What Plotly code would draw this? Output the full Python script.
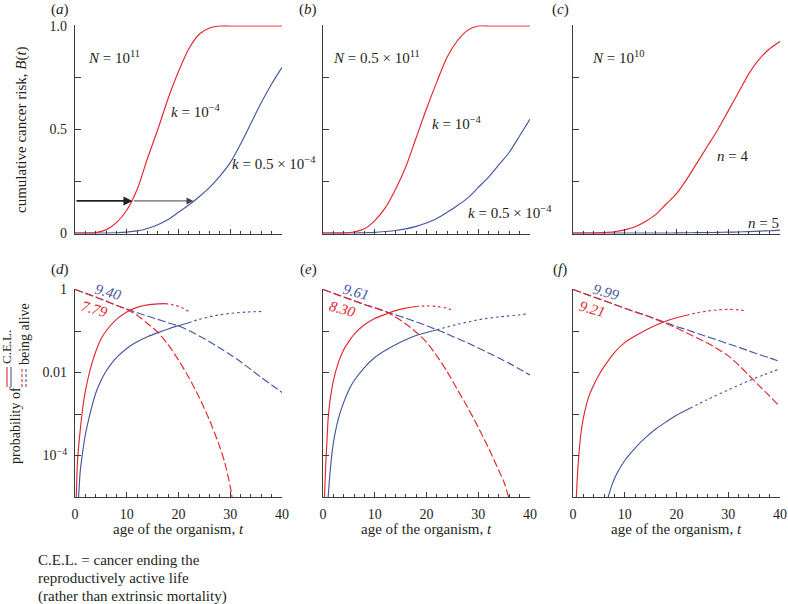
import plotly.graph_objects as go

# ---------------- data ----------------
T_TOP = [0, 2, 4, 6, 8, 10, 12, 14, 16, 18, 20, 22, 24, 26, 28, 30, 32, 34, 36, 38, 40]

# (a) N = 1e11
a_red = [0, 0, 0.002, 0.015, 0.05, 0.11, 0.21, 0.36, 0.50, 0.65, 0.78, 0.89, 0.96, 0.99, 1.0, 1.0, 1.0, 1.0, 1.0, 1.0, 1.0]
a_blue = [0, 0, 0, 0, 0.001, 0.004, 0.01, 0.022, 0.04, 0.065, 0.10, 0.135, 0.175, 0.22, 0.275, 0.34, 0.43, 0.53, 0.63, 0.72, 0.80]
# (b) N = 0.5e11
b_red = [0, 0, 0, 0.005, 0.02, 0.06, 0.12, 0.21, 0.32, 0.46, 0.60, 0.73, 0.85, 0.93, 0.98, 1.0, 1.0, 1.0, 1.0, 1.0, 1.0]
b_blue = [0, 0, 0, 0, 0.001, 0.003, 0.007, 0.012, 0.02, 0.032, 0.048, 0.07, 0.10, 0.133, 0.17, 0.22, 0.27, 0.33, 0.39, 0.47, 0.55]
# (c) N = 1e10
c_red = [0, 0, 0, 0.002, 0.006, 0.015, 0.03, 0.055, 0.09, 0.14, 0.19, 0.26, 0.34, 0.42, 0.50, 0.59, 0.68, 0.77, 0.84, 0.89, 0.925]
c_blue = [0, 0, 0, 0, 0, 0, 0, 0, 0, 0, 0.0005, 0.001, 0.0015, 0.002, 0.003, 0.004, 0.005, 0.007, 0.009, 0.011, 0.014]

# bottom row: log10 of probability
T_ALIVE = [0, 2, 4, 6, 8, 10, 12, 14, 16, 18, 20, 22, 24, 26, 28, 30, 32, 34, 36, 38, 40]

# (d)
d_blue_alive = [0, -0.09, -0.18, -0.28, -0.38, -0.47, -0.56, -0.64, -0.72, -0.80, -0.88, -0.99, -1.12, -1.26, -1.41, -1.57, -1.74, -1.93, -2.12, -2.30, -2.48]
d_red_alive_t = [0, 2, 4, 6, 8, 10, 12, 14, 16, 18, 20, 22, 24, 26, 28, 29, 30, 30.4]
d_red_alive = [0, -0.09, -0.18, -0.28, -0.38, -0.48, -0.62, -0.82, -1.03, -1.33, -1.70, -2.12, -2.60, -3.15, -3.80, -4.2, -4.75, -5.05]
d_red_cel_t = [0.25, 0.5, 1, 1.5, 2, 3, 4, 5, 6, 8, 10, 12, 14, 16, 17.5]
d_red_cel = [-5, -4.1, -3.4, -2.85, -2.45, -1.9, -1.5, -1.2, -1.0, -0.72, -0.54, -0.43, -0.37, -0.345, -0.34]
d_red_cel_dot_t = [17.5, 19, 20.5, 22]
d_red_cel_dot = [-0.34, -0.37, -0.43, -0.53]
d_blue_cel_t = [0.7, 1, 1.5, 2, 3, 4, 5, 6, 7, 8, 10, 12, 14, 16, 18, 20, 22]
d_blue_cel = [-5, -4.4, -3.9, -3.5, -2.95, -2.5, -2.2, -1.97, -1.79, -1.64, -1.42, -1.26, -1.14, -1.04, -0.95, -0.87, -0.80]
d_blue_cel_dot_t = [22, 24, 27, 30, 33, 36]
d_blue_cel_dot = [-0.80, -0.72, -0.63, -0.575, -0.545, -0.53]

# (e)
e_blue_alive = [0, -0.09, -0.18, -0.27, -0.36, -0.44, -0.53, -0.61, -0.69, -0.78, -0.87, -0.97, -1.07, -1.18, -1.29, -1.41, -1.53, -1.65, -1.78, -1.92, -2.06]
e_red_alive_t = [0, 2, 4, 6, 8, 10, 12, 14, 16, 18, 20, 22, 24, 26, 28, 30, 32, 34, 35, 35.9]
e_red_alive = [0, -0.09, -0.18, -0.27, -0.36, -0.44, -0.53, -0.66, -0.83, -1.03, -1.27, -1.60, -1.98, -2.42, -2.85, -3.32, -3.82, -4.37, -4.65, -5.02]
e_red_cel_t = [0.3, 0.5, 0.75, 1, 1.5, 2, 3, 4, 5, 6, 8, 10, 12, 14, 16, 18]
e_red_cel = [-5, -4.3, -3.7, -3.1, -2.55, -2.2, -1.75, -1.45, -1.25, -1.08, -0.85, -0.70, -0.60, -0.51, -0.45, -0.41]
e_red_cel_dot_t = [18, 20, 22, 24, 25.2]
e_red_cel_dot = [-0.41, -0.395, -0.41, -0.45, -0.51]
e_blue_cel_t = [1, 1.3, 1.6, 2, 3, 4, 5, 6, 8, 10, 12, 14, 16, 18, 20, 22]
e_blue_cel = [-5, -4.5, -4.1, -3.7, -3.1, -2.72, -2.42, -2.2, -1.88, -1.64, -1.47, -1.33, -1.21, -1.11, -1.035, -0.97]
e_blue_cel_dot_t = [22, 26, 30, 34, 38, 39.4]
e_blue_cel_dot = [-0.97, -0.84, -0.73, -0.66, -0.61, -0.59]

# (f)
f_blue_alive = [0, -0.09, -0.18, -0.27, -0.36, -0.45, -0.54, -0.62, -0.71, -0.80, -0.89, -0.97, -1.06, -1.14, -1.22, -1.31, -1.39, -1.48, -1.57, -1.65, -1.74]
f_red_alive = [0, -0.09, -0.18, -0.27, -0.36, -0.45, -0.54, -0.62, -0.72, -0.82, -0.93, -1.05, -1.17, -1.29, -1.44, -1.60, -1.82, -2.07, -2.32, -2.57, -2.83]
f_red_cel_t = [0.65, 0.8, 1, 1.5, 2, 3, 4, 5, 6, 8, 10, 12, 14, 16, 18, 20, 22]
f_red_cel = [-5, -4.6, -4.2, -3.5, -3.1, -2.6, -2.3, -2.06, -1.86, -1.52, -1.28, -1.12, -0.98, -0.86, -0.76, -0.68, -0.62]
f_red_cel_dot_t = [22, 24, 26, 28, 30, 32, 33.2]
f_red_cel_dot = [-0.62, -0.56, -0.52, -0.49, -0.48, -0.49, -0.51]
f_blue_cel_t = [6.8, 7.5, 8.5, 10, 12, 14, 16, 18, 20, 22.6]
f_blue_cel = [-5, -4.72, -4.43, -4.12, -3.82, -3.57, -3.36, -3.19, -3.03, -2.86]
f_blue_cel_dot_t = [22.6, 26, 30, 34, 37, 40]
f_blue_cel_dot = [-2.86, -2.65, -2.42, -2.20, -2.05, -1.91]

# labels
X_TICKS = [0, 10, 20, 30, 40]
TOP_Y_TICKS = [0, 0.25, 0.5, 0.75, 1.0]
TOP_Y_TEXT = ["0", "", "0.5", "", "1.0"]
BOT_Y_TICKS = [1, 0.1, 0.01, 0.001, 0.0001]
BOT_Y_TEXT = ["1", "", "0.01", "", "10<sup>−4</sup>"]

# ---------------- style ----------------
W, H = 788, 604
SERIF = "Liberation Serif"
RED = "#E3262E"
BLUE = "#46569F"
AX = "#3c3c3c"
TXT = "#231f20"


def fx(p):
    return p / W


def fy(p):
    return 1 - p / H


cols = [(75, 282), (323, 530), (573, 780)]
TOP_RANGE = [-0.004, 1.004]
top_dom = [fy(233 + 0.004 * 207), fy(26 - 0.004 * 207)]
BOT_RANGE = [-5, 0.012]
bot_dom = [fy(497), fy(497 - 5.012 * 41.5)]

fig = go.Figure()


def line(xs, ys, color, xa, ya, dash="solid", log=False, width=1.15):
    yv = [10 ** v for v in ys] if log else ys
    fig.add_trace(go.Scatter(x=xs, y=yv, mode="lines", xaxis=xa, yaxis=ya,
                             line=dict(color=color, width=width, dash=dash, shape="spline", smoothing=0.8),
                             hoverinfo="skip", showlegend=False))


# top row
line(T_TOP, a_blue, BLUE, "x", "y")
line(T_TOP, a_red, RED, "x", "y")
line(T_TOP, b_blue, BLUE, "x2", "y2")
line(T_TOP, b_red, RED, "x2", "y2")
line(T_TOP, c_blue, BLUE, "x3", "y3")
line(T_TOP, c_red, RED, "x3", "y3")

DASH = "8px,3px"
DOT = "2.5px,3px"
# (d)
line(T_ALIVE, d_blue_alive, BLUE, "x4", "y4", DASH, True)
line(d_red_alive_t, d_red_alive, RED, "x4", "y4", DASH, True)
line(d_red_cel_t, d_red_cel, RED, "x4", "y4", "solid", True)
line(d_red_cel_dot_t, d_red_cel_dot, RED, "x4", "y4", DOT, True)
line(d_blue_cel_t, d_blue_cel, BLUE, "x4", "y4", "solid", True)
line(d_blue_cel_dot_t, d_blue_cel_dot, BLUE, "x4", "y4", DOT, True)
# (e)
line(T_ALIVE, e_blue_alive, BLUE, "x5", "y5", DASH, True)
line(e_red_alive_t, e_red_alive, RED, "x5", "y5", DASH, True)
line(e_red_cel_t, e_red_cel, RED, "x5", "y5", "solid", True)
line(e_red_cel_dot_t, e_red_cel_dot, RED, "x5", "y5", DOT, True)
line(e_blue_cel_t, e_blue_cel, BLUE, "x5", "y5", "solid", True)
line(e_blue_cel_dot_t, e_blue_cel_dot, BLUE, "x5", "y5", DOT, True)
# (f)
line(T_ALIVE, f_blue_alive, BLUE, "x6", "y6", DASH, True)
line(T_ALIVE, f_red_alive, RED, "x6", "y6", DASH, True)
line(f_red_cel_t, f_red_cel, RED, "x6", "y6", "solid", True)
line(f_red_cel_dot_t, f_red_cel_dot, RED, "x6", "y6", DOT, True)
line(f_blue_cel_t, f_blue_cel, BLUE, "x6", "y6", "solid", True)
line(f_blue_cel_dot_t, f_blue_cel_dot, BLUE, "x6", "y6", DOT, True)

common = dict(showline=True, linecolor=AX, linewidth=1.3, ticks="inside", tickcolor=AX,
              tickwidth=1, showgrid=False, zeroline=False, automargin=False,
              ticklabelstandoff=4,
              tickfont=dict(family=SERIF, size=14, color=TXT))

layout = dict(template="none", width=W, height=H, margin=dict(l=0, r=0, t=0, b=0, pad=0, autoexpand=False),
              paper_bgcolor="white", plot_bgcolor="white", showlegend=False,
              font=dict(family=SERIF, color=TXT))

for i in range(6):
    n = "" if i == 0 else str(i + 1)
    c0, c1 = cols[i % 3]
    top = i < 3
    xa = dict(common, domain=[fx(c0), fx(c1)], range=[0, 40], anchor="y" + n,
              tickmode="array", tickvals=X_TICKS, ticklen=5,
              minor=dict(dtick=2, tick0=0, ticks="inside", ticklen=3, tickcolor=AX, tickwidth=1),
              showticklabels=not top)
    if top:
        ya = dict(common, domain=top_dom, range=TOP_RANGE, anchor="x" + n,
                  tickmode="array", tickvals=TOP_Y_TICKS,
                  ticktext=TOP_Y_TEXT if i == 0 else [""] * 5, ticklen=6)
    else:
        ya = dict(common, domain=bot_dom, type="log", range=BOT_RANGE, anchor="x" + n,
                  tickmode="array", tickvals=BOT_Y_TICKS,
                  ticktext=BOT_Y_TEXT if i == 3 else [""] * 5, ticklen=6)
    layout["xaxis" + n] = xa
    layout["yaxis" + n] = ya

fig.update_layout(**layout)

ann = []


def txt(text, x, y, xref="paper", yref="paper", size=15, color=TXT, xanchor="center",
        yanchor="middle", angle=0):
    ann.append(dict(text=text, x=x, y=y, xref=xref, yref=yref, showarrow=False,
                    font=dict(family=SERIF, size=size, color=color), borderpad=0,
                    xanchor=xanchor, yanchor=yanchor, textangle=angle))


# panel letters
for lab, cx, cy in [("a", 60, 10), ("b", 308, 10), ("c", 560, 10),
                    ("d", 60, 269), ("e", 308, 269), ("f", 560, 269)]:
    txt("(<i>%s</i>)" % lab, fx(cx), fy(cy))

# top labels (data coords)
txt("<i>N</i> = 10<sup>11</sup>", 2.3, 0.85, "x", "y", xanchor="left")
txt("<i>k</i> = 10<sup>−4</sup>", 18.4, 0.59, "x", "y", xanchor="left")
txt("<i>k</i> = 0.5 × 10<sup>−4</sup>", 30.1, 0.34, "x", "y", xanchor="left")
txt("<i>N</i> = 0.5 × 10<sup>11</sup>", 1.7, 0.85, "x2", "y2", xanchor="left")
txt("<i>k</i> = 10<sup>−4</sup>", 20.8, 0.53, "x2", "y2", xanchor="left")
txt("<i>k</i> = 0.5 × 10<sup>−4</sup>", 27.8, 0.10, "x2", "y2", xanchor="left")
txt("<i>N</i> = 10<sup>10</sup>", 3.5, 0.85, "x3", "y3", xanchor="left")
txt("<i>n</i> = 4", 27.7, 0.37, "x3", "y3", xanchor="left")
txt("<i>n</i> = 5", 33.7, 0.05, "x3", "y3", xanchor="left")

# bottom numbers
for xr, yr, bval, rval in [("x4", "y4", "9.40", "7.79"), ("x5", "y5", "9.61", "8.30"),
                           ("x6", "y6", "9.99", "9.21")]:
    txt("<i>%s</i>" % bval, 6.4, -0.05, xr, yr, color=BLUE, angle=16)
    txt("<i>%s</i>" % rval, 3.7, -0.48, xr, yr, color=RED, angle=16)

# axis titles
txt("cumulative cancer risk, <i>B</i>(<i>t</i>)", fx(21), fy(130), angle=-90)
for c0, c1 in cols:
    txt("age of the organism, <i>t</i>", fx((c0 + c1) / 2), fy(529))

# y title of bottom row with inline legend
txt("probability of", fx(15), fy(426), size=14, angle=-90)
txt("C.E.L.", fx(6), fy(347), size=13, angle=-90)
txt("being alive", fx(24), fy(334), size=14, angle=-90)

# footnote
txt("C.E.L. = cancer ending the", fx(37), fy(560), xanchor="left")
txt("reproductively active life", fx(37), fy(578), xanchor="left")
txt("(rather than extrinsic mortality)", fx(37), fy(596), xanchor="left")

# arrows in panel (a)
ann.append(dict(x=11.1, y=0.155, ax=0, ay=0.155, xref="x", yref="y", axref="x", ayref="y",
                text="", showarrow=True, arrowhead=2, arrowsize=1.0, arrowwidth=1.8,
                arrowcolor="#222222", standoff=0))
ann.append(dict(x=22.9, y=0.155, ax=11.1, ay=0.155, xref="x", yref="y", axref="x", ayref="y",
                text="", showarrow=True, arrowhead=2, arrowsize=1.4, arrowwidth=1.0,
                arrowcolor="#444444", standoff=0))

shapes = []
for xp, col, dsh in [(7, RED, "solid"), (11, BLUE, "solid"), (22, RED, "3px,2px"), (26, BLUE, "3px,2px")]:
    shapes.append(dict(type="line", xref="paper", yref="paper", x0=fx(xp), x1=fx(xp),
                       y0=fy(387), y1=fy(367), line=dict(color=col, width=1.1, dash=dsh)))

fig.update_layout(annotations=ann, shapes=shapes)
fig.write_html("out.html", config={"displayModeBar": False},
               post_script="document.body.style.margin='0';document.body.style.padding='0';"
                           "document.body.style.overflow='hidden';")
